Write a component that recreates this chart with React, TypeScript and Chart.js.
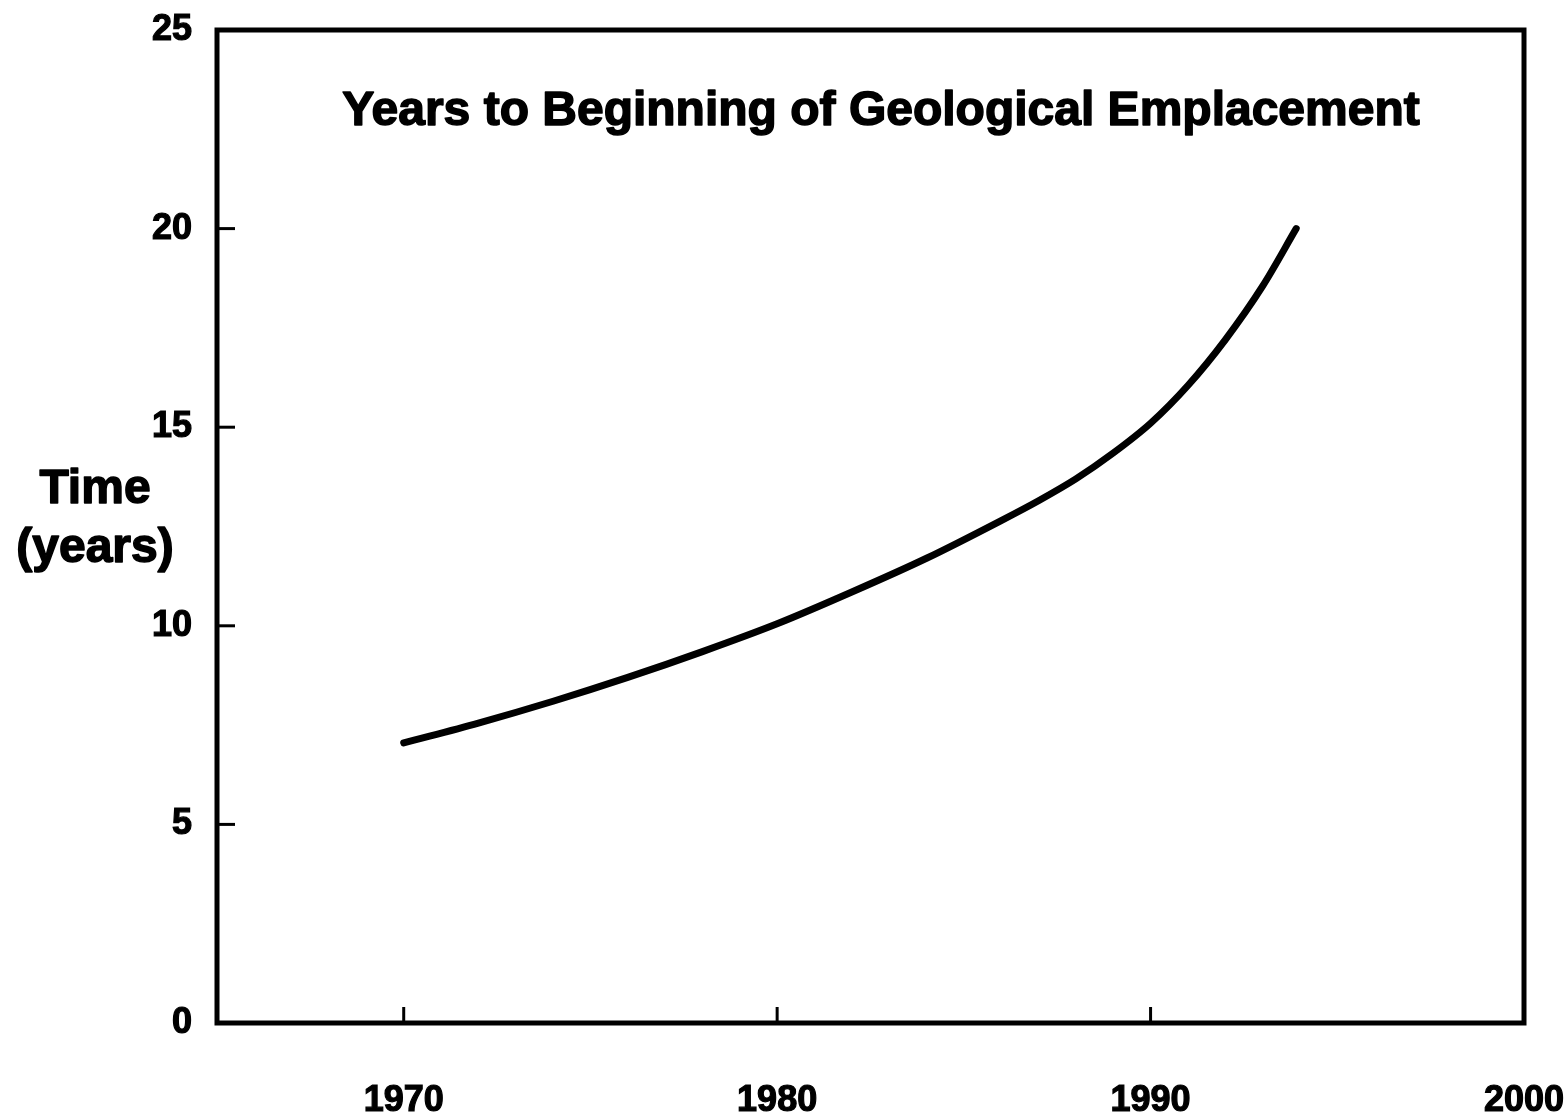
import React, { useEffect, useRef } from 'react';
import { Chart, registerables } from 'chart.js';

Chart.register(...registerables);

// ---- Data ----
const years = [1970, 1972, 1974, 1976, 1978, 1980, 1982, 1984, 1986, 1987, 1988, 1989, 1990, 1991, 1992, 1993, 1993.9];
const timeToEmplacement = [7.05, 7.55, 8.1, 8.7, 9.35, 10.05, 10.85, 11.7, 12.65, 13.15, 13.7, 14.35, 15.1, 16.05, 17.2, 18.55, 20.0];

const xTickValues = [1970, 1980, 1990, 2000];
const yTickValues = [0, 5, 10, 15, 20, 25];
const chartTitle = 'Years to Beginning of Geological Emplacement';
const yTitleLines = ['Time', '(years)'];

const FONT = "'Liberation Sans', Arial, Helvetica, sans-serif";

const decorPlugin = {
  id: 'decor',
  afterDraw(chart: any) {
    const { ctx, chartArea: a, scales } = chart;
    ctx.save();
    ctx.strokeStyle = '#000';
    ctx.fillStyle = '#000';
    // inner tick marks
    ctx.lineWidth = 3;
    ctx.lineCap = 'butt';
    xTickValues.forEach((v) => {
      const px = scales.x.getPixelForValue(v);
      ctx.beginPath();
      ctx.moveTo(px, a.bottom);
      ctx.lineTo(px, a.bottom - 16);
      ctx.stroke();
    });
    yTickValues.forEach((v) => {
      const py = scales.y.getPixelForValue(v);
      ctx.beginPath();
      ctx.moveTo(a.left, py);
      ctx.lineTo(a.left + 18, py);
      ctx.stroke();
    });
    // frame
    ctx.lineWidth = 5;
    ctx.lineJoin = 'miter';
    ctx.strokeRect(a.left, a.top, a.right - a.left, a.bottom - a.top);
    // title inside plot
    ctx.font = `bold 48px ${FONT}`;
    ctx.textAlign = 'center';
    ctx.textBaseline = 'alphabetic';
    ctx.lineWidth = 1.5;
    ctx.lineJoin = 'round';
    const tx = a.left + (a.right - a.left) * 0.508;
    ctx.fillText(chartTitle, tx, a.top + 95);
    ctx.strokeText(chartTitle, tx, a.top + 95);
    // y axis title (horizontal, two lines)
    const yx = a.left - 122;
    ctx.fillText(yTitleLines[0], yx, 503);
    ctx.strokeText(yTitleLines[0], yx, 503);
    ctx.fillText(yTitleLines[1], yx, 562);
    ctx.strokeText(yTitleLines[1], yx, 562);
    ctx.restore();
  },
};

export default function App() {
  const canvasRef = useRef<HTMLCanvasElement | null>(null);

  useEffect(() => {
    document.body.style.margin = '0';
    const canvas = canvasRef.current;
    if (!canvas) return;
    const chart = new Chart(canvas, {
      type: 'line',
      data: {
        datasets: [
          {
            data: years.map((y, i) => ({ x: y, y: timeToEmplacement[i] })),
            borderColor: '#000',
            borderWidth: 7,
            borderCapStyle: 'round',
            pointRadius: 0,
            cubicInterpolationMode: 'monotone',
            fill: false,
          },
        ],
      },
      options: {
        animation: false,
        responsive: false,
        maintainAspectRatio: false,
        layout: { padding: { top: 30, right: 42, left: 0, bottom: 0 } },
        plugins: {
          legend: { display: false },
          tooltip: { enabled: false },
          title: { display: false },
        },
        scales: {
          x: {
            type: 'linear',
            min: 1965,
            max: 2000,
            afterBuildTicks: (scale: any) => {
              scale.ticks = xTickValues.map((v) => ({ value: v }));
            },
            afterFit: (scale: any) => {
              scale.height = 95;
              scale.paddingLeft = 0;
              scale.paddingRight = 0;
            },
            grid: { display: false, drawTicks: false },
            border: { display: false },
            ticks: {
              padding: 56,
              maxRotation: 0,
              autoSkip: false,
              color: '#000',
              textStrokeColor: '#000',
              textStrokeWidth: 1.2,
              font: { family: FONT, size: 36, weight: 'bold' },
              callback: (v: any) => String(v),
            },
          },
          y: {
            type: 'linear',
            min: 0,
            max: 25,
            afterBuildTicks: (scale: any) => {
              scale.ticks = yTickValues.map((v) => ({ value: v }));
            },
            afterFit: (scale: any) => {
              scale.width = 217;
              scale.paddingTop = 0;
              scale.paddingBottom = 0;
            },
            grid: { display: false, drawTicks: false },
            border: { display: false },
            ticks: {
              padding: 25,
              color: '#000',
              textStrokeColor: '#000',
              textStrokeWidth: 1.2,
              font: { family: FONT, size: 36, weight: 'bold' },
              callback: (v: any) => String(v),
            },
          },
        },
      },
      plugins: [decorPlugin],
    });
    return () => chart.destroy();
  }, []);

  return (
    <div style={{ position: 'absolute', left: 0, top: 0, width: 1566, height: 1118, background: '#fff' }}>
      <canvas ref={canvasRef} width={1566} height={1118} style={{ display: 'block' }} />
    </div>
  );
}
